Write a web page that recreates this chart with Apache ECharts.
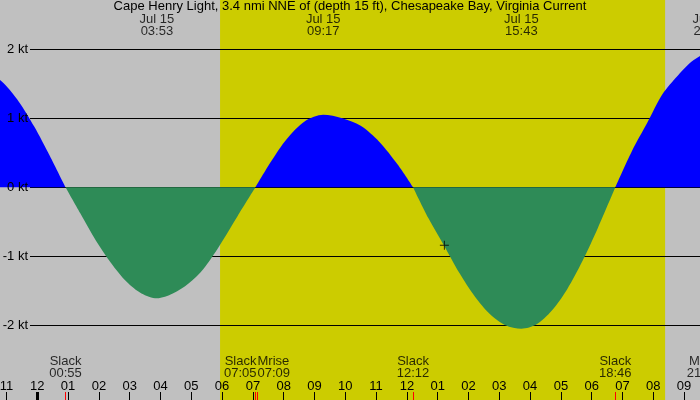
<!DOCTYPE html>
<html>
<head>
<meta charset="utf-8">
<script src="https://cdn.jsdelivr.net/npm/echarts@6/dist/echarts.min.js"></script>
<style>
html, body { margin: 0; padding: 0; background: #c0c0c0; }
#chart { width: 700px; height: 400px; }
</style>
</head>
<body>
<div id="chart"></div>
<script>
var titleText = 'Cape Henry Light, 3.4 nmi NNE of (depth 15 ft), Chesapeake Bay, Virginia Current';
var dateText = 'Jul 15';

// current speed, hours after midnight -> knots (+ flood, - ebb)
var curveHours = [-2.6, -2.1, -1.6, -1.1, -0.6, -0.1, 0.4, 0.917,
	1.4, 1.9, 2.4, 2.9, 3.383, 3.883, 4.4, 4.9, 5.4, 5.9, 6.5, 7.083,
	7.6, 8.1, 8.7, 9.283, 9.9, 10.5, 11.1, 11.7, 12.2,
	12.7, 13.2, 13.7, 14.2, 14.7, 15.2, 15.717, 16.2, 16.7, 17.2, 17.7, 18.2, 18.767,
	19.3, 19.8, 20.3, 20.8, 21.3, 21.83, 22.3];
var curveKnots = [1.72, 1.74, 1.68, 1.51, 1.24, 0.88, 0.46, 0,
	-0.38, -0.77, -1.10, -1.37, -1.54, -1.61, -1.54, -1.40, -1.18, -0.86, -0.42, 0,
	0.38, 0.70, 0.96, 1.05, 1.00, 0.89, 0.66, 0.33, 0,
	-0.45, -0.84, -1.24, -1.58, -1.84, -2.00, -2.05, -1.99, -1.79, -1.48, -1.07, -0.59, 0,
	0.52, 0.93, 1.35, 1.62, 1.84, 1.95, 1.90];

var extremeTimes = ['03:53', '09:17', '15:43', '21:50'];
var eventNames = ['Slack', 'Slack', 'Mrise', 'Slack', 'Slack', 'Mset'];
var eventTimes = ['00:55', '07:05', '07:09', '12:12', '18:46', '21:37'];
var sunrise = '05:56';
var sunset = '20:23';
var nowTime = '13:13';
var nowKnots = -0.84;

function hm(s) {
	var p = s.split(':');
	return parseInt(p[0], 10) + parseInt(p[1], 10) / 60;
}
function hourLabel(v) {
	var h = ((v % 12) + 12) % 12;
	if (h === 0) h = 12;
	return (h < 10 ? '0' : '') + h;
}

var font = 'Liberation Sans';
var fs = 13;
var yMin = -3.083, yMax = 2.714;

var floodData = [], ebbData = [];
for (var i = 0; i < curveHours.length; i++) {
	var v = curveKnots[i];
	floodData.push([curveHours[i], v >= 0 ? v : '-']);
	ebbData.push([curveHours[i], v <= 0 ? v : '-']);
}

// events that sit close together get pushed apart
var eventData = eventTimes.map(function(t, i) {
	var x = hm(t);
	var lab = {};
	if (i + 1 < eventTimes.length && hm(eventTimes[i + 1]) - x < 0.5) {
		lab = { align: 'right', offset: [1, 0] };
	} else if (i > 0 && x - hm(eventTimes[i - 1]) < 0.5) {
		lab = { align: 'left', offset: [0, 0] };
	}
	return { value: [x, -2.612], name: eventNames[i], time: t, label: lab };
});

var tickLines = eventTimes.map(function(t) {
	return [{ coord: [hm(t), yMin] }, { coord: [hm(t), -2.967] }];
});
tickLines.push([{ coord: [0, yMin], lineStyle: { color: '#000', width: 3 } },
	{ coord: [0, -2.967] }]);

var chart = echarts.init(document.getElementById('chart'));
var option = {
	backgroundColor: '#c0c0c0',
	animation: false,
	title: {
		text: titleText,
		left: 'center',
		top: 0,
		padding: 0,
		textStyle: { fontSize: fs, fontWeight: 'normal', color: '#000', fontFamily: font }
	},
	grid: [
		{ left: -24.3, right: -14.9, top: 0, bottom: 0, outerBoundsMode: 'none' },
		{ left: 30, right: 0, top: 49.3, bottom: 74.7, outerBoundsMode: 'none' },
		{ left: 30, right: 0, top: 49.3, bottom: 74.7, outerBoundsMode: 'none' }
	],
	xAxis: [{
		type: 'value',
		gridIndex: 0,
		min: -2,
		max: 22,
		interval: 1,
		z: 6,
		axisLine: { show: false, onZero: false },
		axisTick: { show: true, inside: true, length: 8, lineStyle: { color: '#000', width: 1 } },
		axisLabel: {
			inside: true, margin: 7, color: '#000', fontSize: fs, fontFamily: font,
			formatter: hourLabel
		},
		splitLine: { show: false }
	}, {
		type: 'value', gridIndex: 1, show: false
	}, {
		type: 'value', gridIndex: 2, show: false
	}],
	yAxis: [{
		type: 'value',
		gridIndex: 0,
		min: yMin,
		max: yMax,
		show: false
	}, {
		// knot lines, under the fill
		type: 'value',
		gridIndex: 1,
		min: -2,
		max: 2,
		interval: 1,
		z: 2,
		axisLine: { show: false },
		axisTick: { show: false },
		axisLabel: { show: false },
		splitLine: { show: true, lineStyle: { color: '#000', width: 1 } }
	}, {
		// knot labels, over the fill
		type: 'value',
		gridIndex: 2,
		min: -2,
		max: 2,
		interval: 1,
		z: 6,
		axisLine: { show: false },
		axisTick: { show: false },
		axisLabel: { formatter: '{value} kt', margin: 2, color: '#000', fontSize: fs, fontFamily: font },
		splitLine: { show: false }
	}],
	series: [{
		name: 'flood',
		type: 'line',
		data: floodData,
		smooth: 0.3,
		symbol: 'none',
		z: 3,
		lineStyle: { width: 0 },
		areaStyle: { color: '#0000ff', opacity: 1 },
		markArea: {
			silent: true,
			z: 1,
			itemStyle: { color: '#cccc00' },
			data: [[{ xAxis: hm(sunrise) }, { xAxis: hm(sunset) }]]
		}
	}, {
		name: 'ebb',
		type: 'line',
		data: ebbData,
		smooth: 0.3,
		symbol: 'none',
		z: 3,
		lineStyle: { width: 0 },
		areaStyle: { color: '#2e8b57', opacity: 1 }
	}, {
		name: 'extremes',
		type: 'scatter',
		symbolSize: 0,
		z: 7,
		data: extremeTimes.map(function(t) { return { value: [hm(t), 2.345], time: t }; }),
		label: {
			show: true, position: 'inside', color: '#000', fontSize: fs, lineHeight: 12, fontFamily: font,
			formatter: function(p) { return dateText + '\n' + p.data.time; }
		}
	}, {
		name: 'events',
		type: 'scatter',
		symbolSize: 0,
		z: 7,
		data: eventData,
		label: {
			show: true, position: 'inside', color: '#000', fontSize: fs, lineHeight: 12, fontFamily: font,
			formatter: function(p) { return p.data.name + '\n' + p.data.time; }
		},
		markLine: {
			silent: true,
			z: 8,
			symbol: 'none',
			label: { show: false },
			lineStyle: { color: '#ff0000', width: 1, type: 'solid' },
			data: tickLines
		}
	}, {
		name: 'now',
		type: 'scatter',
		z: 8,
		symbol: 'path://M4 0h1v9h-1z M0 4h9v1h-9z',
		symbolSize: 9,
		itemStyle: { color: '#000' },
		data: [[hm(nowTime), nowKnots]]
	}]
};
chart.setOption(option);
</script>
</body>
</html>
